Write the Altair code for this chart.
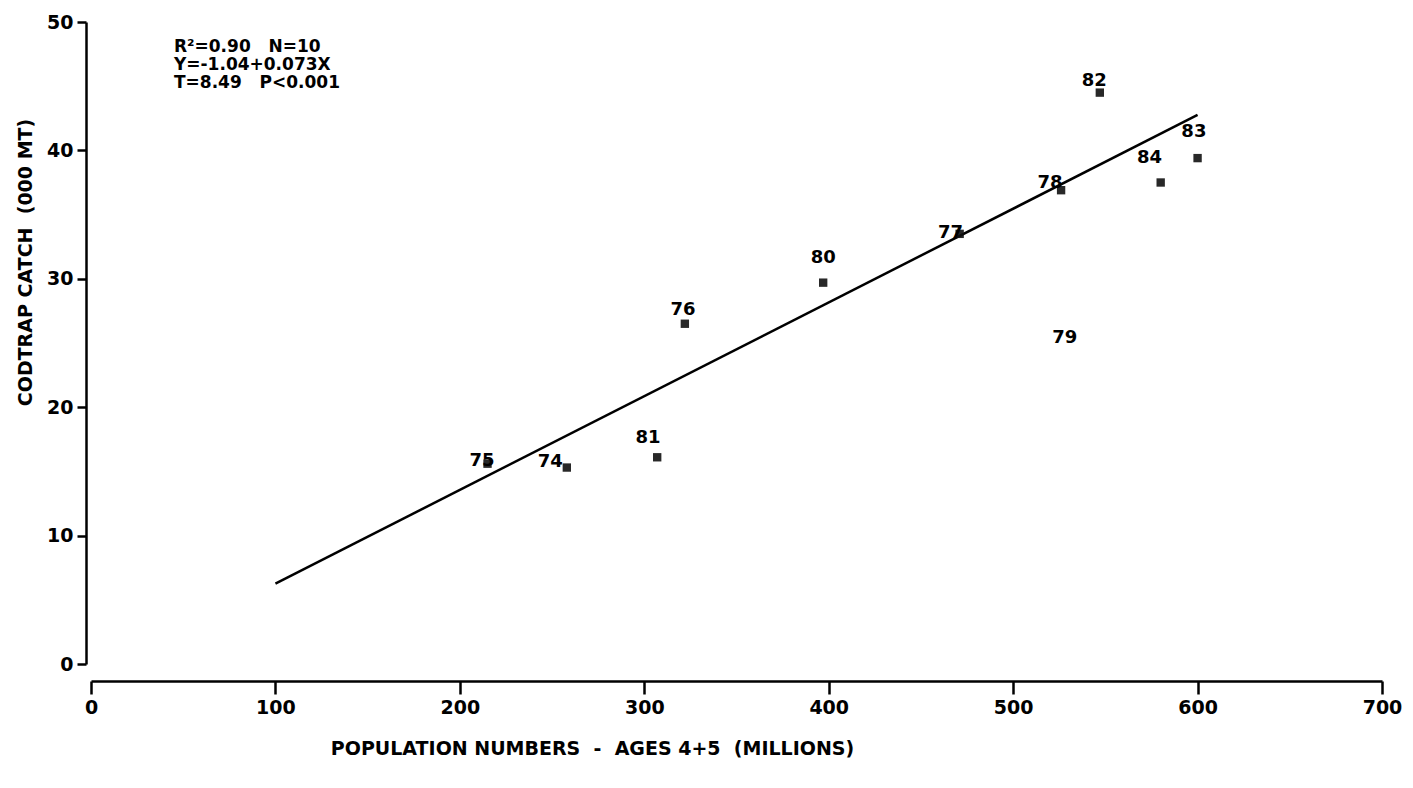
import altair as alt
import pandas as pd

# Observed points (year label, population ages 4+5 in millions, codtrap catch '000 t)
years = ["74", "75", "76", "77", "78", "79", "80", "81", "82", "83", "84"]
population = [258, 215, 322, 471, 526, 527, 397, 307, 547, 600, 580]
catch = [15.3, 15.6, 26.5, 33.5, 36.9, 24.6, 29.7, 16.1, 44.5, 39.4, 37.5]
has_marker = [True, True, True, True, True, False, True, True, True, True, True]

# Year label anchor positions (data units)
label_x = [249, 212, 321, 466, 520, 528, 397, 302, 544, 598, 574]
label_y = [15.7, 15.8, 27.6, 33.6, 37.5, 25.4, 31.6, 17.6, 45.4, 41.4, 39.4]

# Regression line Y = -1.04 + 0.073X
fit_x = [100, 600]
fit_y = [6.26, 42.76]

# Statistics box
NB = "\u00a0"
stats_lines = ["R\u00b2=0.90" + NB * 3 + "N=10", "Y=-1.04+0.073X", "T=8.49" + NB * 3 + "P<0.001"]
stats_x = [45, 45, 45]
stats_y = [48.05, 46.65, 45.25]

x_ticks = [0, 100, 200, 300, 400, 500, 600, 700]
y_ticks = [0, 10, 20, 30, 40, 50]

x_title = "POPULATION" + NB + "NUMBERS" + NB * 2 + "-" + NB * 2 + "AGES" + NB + "4+5" + NB * 2 + "(MILLIONS)"
y_title = "CODTRAP" + NB + "CATCH" + NB * 2 + "(000" + NB + "MT)"

FONT = "DejaVu Sans"

pts = pd.DataFrame({"year": years, "x": population, "y": catch, "m": has_marker})
lbl = pd.DataFrame({"year": years, "x": label_x, "y": label_y})
fit = pd.DataFrame({"x": fit_x, "y": fit_y})
stats = pd.DataFrame({"t": stats_lines, "x": stats_x, "y": stats_y})

xscale = alt.Scale(domain=[0, 700], nice=False, zero=False)
yscale = alt.Scale(domain=[0, 50], nice=False, zero=False)

xaxis = alt.Axis(
    values=x_ticks, grid=False, offset=17, tickSize=13, tickWidth=2.5,
    domainWidth=2.5, domainColor="black", tickColor="black",
    labelFont=FONT, labelFontSize=19, labelFontWeight="bold", labelColor="black",
    labelPadding=4, labelFlush=False, title=x_title,
    titleFont=FONT, titleFontSize=19, titleFontWeight="bold", titleColor="black",
    titleX=501, titleY=58, titleAnchor="middle", titleAlign="center",
)
yaxis = alt.Axis(
    values=y_ticks, grid=False, offset=5, tickSize=9, tickWidth=2.5,
    domainWidth=2.5, domainColor="black", tickColor="black",
    labelFont=FONT, labelFontSize=19, labelFontWeight="bold", labelColor="black",
    labelPadding=4, labelFlush=False, title=y_title,
    titleFont=FONT, titleFontSize=19, titleFontWeight="bold", titleColor="black",
    titleX=-61, titleY=240, titleAngle=270, titleAlign="center", titleBaseline="middle",
)

X = alt.X("x:Q", scale=xscale, axis=xaxis, title=x_title)
Y = alt.Y("y:Q", scale=yscale, axis=yaxis, title=y_title)

line = alt.Chart(fit).mark_line(color="black", strokeWidth=2.5).encode(x=X, y=Y)

markers = alt.Chart(pts).transform_filter("datum.m").mark_square(
    color="#111111", size=70, opacity=0.9
).encode(x=X, y=Y)

labels = alt.Chart(lbl).mark_text(
    font=FONT, fontSize=18, fontWeight="bold", color="black", align="center", baseline="middle"
).encode(x=X, y=Y, text="year:N")

stat_text = alt.Chart(stats).mark_text(
    font=FONT, fontSize=17, fontWeight="bold", color="black", align="left", baseline="middle"
).encode(x=X, y=Y, text="t:N")

chart = alt.layer(line, markers, labels, stat_text).properties(
    width=1291, height=642,
    autosize=alt.AutoSizeParams(type="none"),
    padding={"left": 83, "top": 14, "right": 20, "bottom": 100},
    background="white",
).configure_view(stroke=None, strokeWidth=0)

chart.save("out.html", embed_options={"renderer": "svg", "actions": False})
